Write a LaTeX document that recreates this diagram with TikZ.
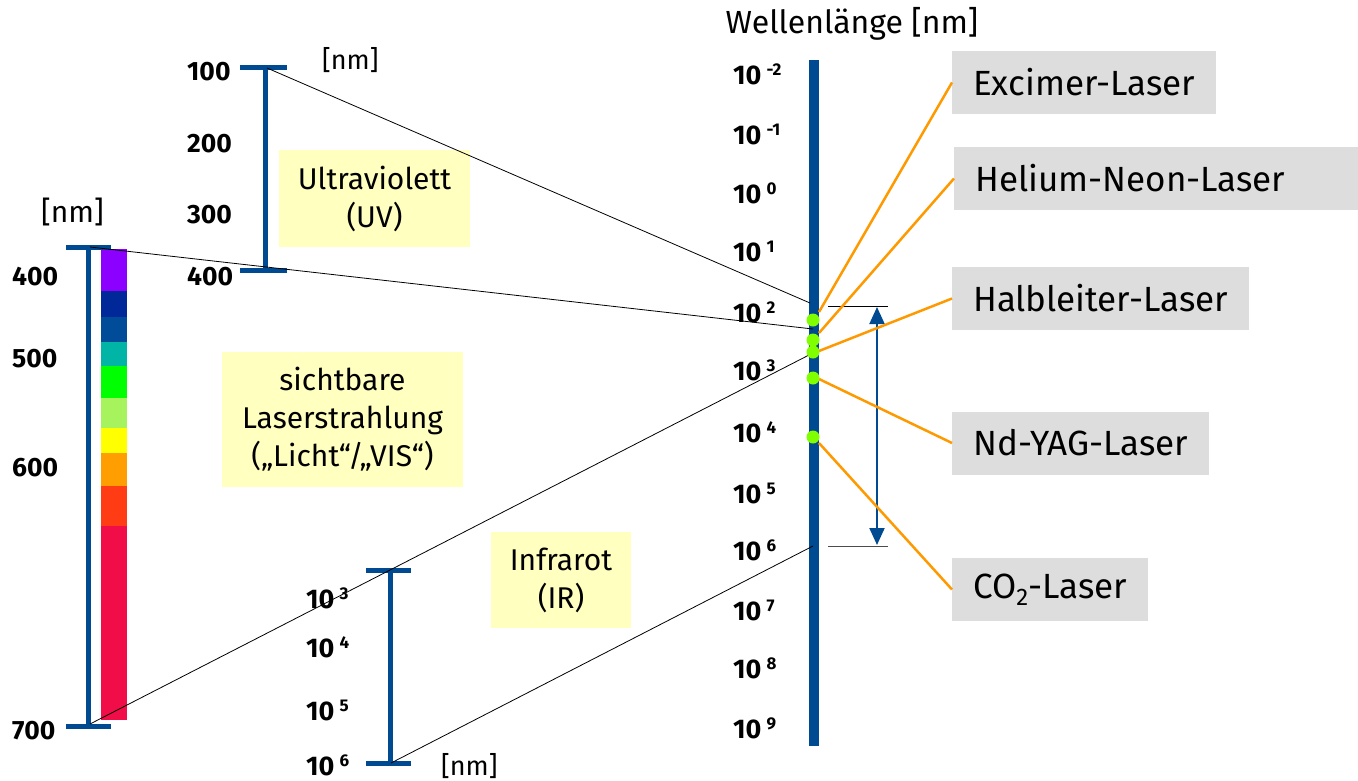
\documentclass[tikz,border=0pt]{standalone}
\usepackage{fontspec}
\setmainfont{Fira Sans}
\usetikzlibrary{arrows.meta}
\definecolor{barblue}{RGB}{0,74,145}
\definecolor{boxgray}{RGB}{221,221,221}
\definecolor{paleyellow}{RGB}{255,255,192}
\definecolor{laserorange}{RGB}{255,153,0}
\definecolor{dotgreen}{RGB}{128,255,0}
\definecolor{cviolet}{RGB}{139,0,255}
\definecolor{cdblue}{RGB}{0,40,153}
\definecolor{cblue}{RGB}{0,76,153}
\definecolor{cteal}{RGB}{0,180,166}
\definecolor{cgreen}{RGB}{0,255,0}
\definecolor{clgreen}{RGB}{166,243,93}
\definecolor{cyellow}{RGB}{255,255,0}
\definecolor{corange}{RGB}{255,158,0}
\definecolor{cred}{RGB}{255,60,20}
\definecolor{ccrimson}{RGB}{240,13,72}
\newcommand{\pwr}[1]{\bfseries 10\hspace{5pt}\raisebox{8.5pt}{\fontsize{17}{17}\selectfont #1}}
\begin{document}
\begin{tikzpicture}[x=1pt,y=-1pt,
  scalelbl/.style={anchor=base west, inner sep=0pt, font=\fontsize{27}{27}\selectfont},
  numlbl/.style={anchor=base west, inner sep=0pt, font=\fontsize{26.5}{26.5}\selectfont\bfseries},
  unitlbl/.style={anchor=base west, inner sep=0pt, font=\fontsize{27}{27}\selectfont},
  laserbox/.style={fill=boxgray, anchor=west, inner xsep=21pt, inner ysep=0pt, minimum height=63pt, font=\fontsize{35}{35}\selectfont},
  rangebox/.style={fill=paleyellow, align=center, inner sep=0pt, font=\fontsize{30}{38}\selectfont},
  bracket/.style={barblue, line width=5pt},
  thinline/.style={black, line width=0.8pt},
  laserline/.style={laserorange, line width=2.5pt},
  gdot/.style={circle, fill=dotgreen, minimum size=13pt, inner sep=0pt},
]
\useasboundingbox (0,0) rectangle (1358,780);

% ---------- main scale ----------
\fill[barblue] (809,60) rectangle (819,746);
\node[anchor=base, inner sep=0pt, font=\fontsize{32}{32}\selectfont] (title) at (852,33) {Wellenlänge [nm]};
\node[scalelbl] (s1) at (733,84) {\pwr{-2}};
\node[scalelbl] (s2) at (733,144) {\pwr{-1}};
\node[scalelbl] (s3) at (733,203) {\pwr{0}};
\node[scalelbl] (s4) at (733,261) {\pwr{1}};
\node[scalelbl] (s5) at (733,322) {\pwr{2}};
\node[scalelbl] (s6) at (733,380) {\pwr{3}};
\node[scalelbl] (s7) at (733,442) {\pwr{4}};
\node[scalelbl] (s8) at (733,503) {\pwr{5}};
\node[scalelbl] (s9) at (733,560) {\pwr{6}};
\node[scalelbl] (s10) at (733,620) {\pwr{7}};
\node[scalelbl] (s11) at (733,678) {\pwr{8}};
\node[scalelbl] (s12) at (733,738) {\pwr{9}};

% ---------- range marks and arrow ----------
\coordinate (mtopL) at (828,306); \coordinate (mtopR) at (888,306);
\coordinate (mbotL) at (828,546); \coordinate (mbotR) at (888,546);
\draw[thinline] (mtopL) -- (mtopR);
\draw[thinline, black!70] (mbotL) -- (mbotR);
\coordinate (atop) at (877,307); \coordinate (abot) at (877,545);
\draw[barblue, line width=2pt, {Triangle[length=17pt,width=15pt]}-{Triangle[length=17pt,width=15pt]}] (atop) -- (abot);

% ---------- laser boxes ----------
\node[laserbox] (exc) at (952,82.5) {Excimer-Laser};
\node[laserbox, text width=362pt, align=left] (hene) at (954,178.5) {Helium-Neon-Laser};
\node[laserbox] (halb) at (952,298.5) {Halbleiter-Laser};
\node[laserbox] (ndyag) at (952,443) {Nd-YAG-Laser};
\node[laserbox] (co2) at (952,589.5) {CO\raisebox{-7pt}{\fontsize{24}{24}\selectfont 2}-Laser};

\coordinate (oexc) at (819,312);
\coordinate (ohene) at (819,333);
\coordinate (ohalb) at (819,351);
\coordinate (ondyag) at (819,379);
\coordinate (oco2) at (819,443);
\draw[laserline] (oexc) -- (exc.west);
\draw[laserline] (ohene) -- (hene.west);
\draw[laserline] (ohalb) -- (halb.west);
\draw[laserline] (ondyag) -- (ndyag.west);
\draw[laserline] (oco2) -- (co2.west);

% ---------- UV ----------
\draw[bracket] (240,67) -- (287,67) (265,67) -- (265,270) (240,270) -- (287,270);
\node[numlbl] (n100) at (187,80) {100};
\node[numlbl] (n200) at (187,152) {200};
\node[numlbl] (n300) at (187,223) {300};
\node[numlbl] (n400b) at (187,285) {400};
\node[unitlbl] (uvunit) at (322,69) {[nm]};
\node[rangebox, minimum width=191pt, minimum height=97pt] (uvbox) at (374.5,198.5) {Ultraviolett\\(UV)};

% ---------- visible ----------
\fill[cviolet] (101,249) rectangle (127,291);
\fill[cdblue] (101,291) rectangle (127,317);
\fill[cblue] (101,317) rectangle (127,342);
\fill[cteal] (101,342) rectangle (127,366);
\fill[cgreen] (101,366) rectangle (127,398);
\fill[clgreen] (101,398) rectangle (127,428);
\fill[cyellow] (101,428) rectangle (127,453);
\fill[corange] (101,453) rectangle (127,486);
\fill[cred] (101,486) rectangle (127,526);
\fill[ccrimson] (101,526) rectangle (127,720);
\draw[bracket] (66,247) -- (111,247) (88,247) -- (88,726) (66,726) -- (111,726);
\node[numlbl] (n400) at (12,285) {400};
\node[numlbl] (n500) at (12,367) {500};
\node[numlbl] (n600) at (12,476) {600};
\node[numlbl] (n700) at (12,739) {700};
\node[unitlbl, font=\fontsize{30}{30}\selectfont] (visunit) at (41,222) {[nm]};
\node[rangebox, minimum width=241pt, minimum height=135pt] (visbox) at (342.5,419.5) {sichtbare\\Laserstrahlung\\(„Licht“/„VIS“)};

% ---------- IR ----------
\draw[bracket] (366,570) -- (411,570) (390,570) -- (390,763) (366,763) -- (411,763);
\node[scalelbl] (i3) at (306,608) {\pwr{3}};
\node[scalelbl] (i4) at (306,657) {\pwr{4}};
\node[scalelbl] (i5) at (306,720) {\pwr{5}};
\node[scalelbl] (i6) at (306,775) {\pwr{6}};
\node[unitlbl] (irunit) at (441,775) {[nm]};
\node[rangebox, minimum width=140pt, minimum height=96pt] (irbox) at (561,580) {Infrarot\\(IR)};

% ---------- projection lines ----------
\coordinate (uvtop) at (267,68); \coordinate (b100) at (810,303);
\coordinate (vistop) at (90,247); \coordinate (b400) at (813,329);
\coordinate (visbot) at (90,724); \coordinate (b700) at (809,355);
\coordinate (irbot) at (391,763); \coordinate (b1e6) at (813,546);
\draw[thinline] (uvtop) -- (b100);
\draw[thinline] (vistop) -- (b400);
\draw[thinline] (visbot) -- (b700);
\draw[thinline] (irbot) -- (b1e6);

% ---------- laser dots ----------
\node[gdot] (d1) at (813,320) {};
\node[gdot] (d2) at (813,340) {};
\node[gdot] (d3) at (813,352) {};
\node[gdot] (d4) at (813,378) {};
\node[gdot] (d5) at (813,437) {};
\end{tikzpicture}
\end{document}
